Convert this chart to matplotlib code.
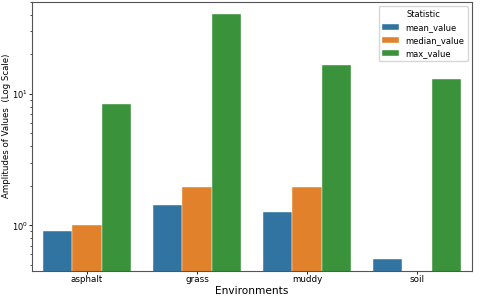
import numpy as np
import matplotlib
matplotlib.use('Agg')
import matplotlib.pyplot as plt

# data
environments = ['asphalt', 'grass', 'muddy', 'soil']
statistics = ['mean_value', 'median_value', 'max_value']
mean_value = [0.90, 1.43, 1.26, 0.55]
median_value = [1.0, 1.95, 1.95, np.nan]
max_value = [8.4, 40.5, 16.6, 13.0]
colors = ['#3274a1', '#e1812c', '#3a923a']

series = [mean_value, median_value, max_value]

fig = plt.figure(figsize=(4.8, 3.0), dpi=100)
ax = fig.add_axes([0.067, 0.097, 0.916, 0.896])

x = np.arange(len(environments))
width = 0.8 / len(statistics)
for i, (name, vals) in enumerate(zip(statistics, series)):
    offs = x - 0.4 + width * (i + 0.5)
    ax.bar(offs, vals, width=width, color=colors[i], label=name,
           edgecolor='white', linewidth=0.3)

ax.set_yscale('log')
ax.set_ylim(0.45, 50)
ax.set_xlim(-0.5, len(environments) - 0.5)
ax.set_xticks(x)
ax.set_xticklabels(environments)
ax.tick_params(labelsize=6.3, width=0.6, length=2, pad=1.2)
ax.tick_params(axis='y', labelsize=6)
ax.tick_params(which='minor', width=0.5, length=1.5)
for s in ax.spines.values():
    s.set_linewidth(0.8)
    s.set_color('#555555')

ax.set_xlabel('Environments', fontsize=7.6)
ax.set_ylabel('Amplitudes of Values  (Log Scale)', fontsize=6.2)
ax.xaxis.set_label_coords(0.5, -0.058)
ax.yaxis.set_label_coords(-0.047, 0.539)

leg = ax.legend(title='Statistic', fontsize=6, title_fontsize=6,
                loc='upper right')

fig.savefig('out.png', dpi=100)
